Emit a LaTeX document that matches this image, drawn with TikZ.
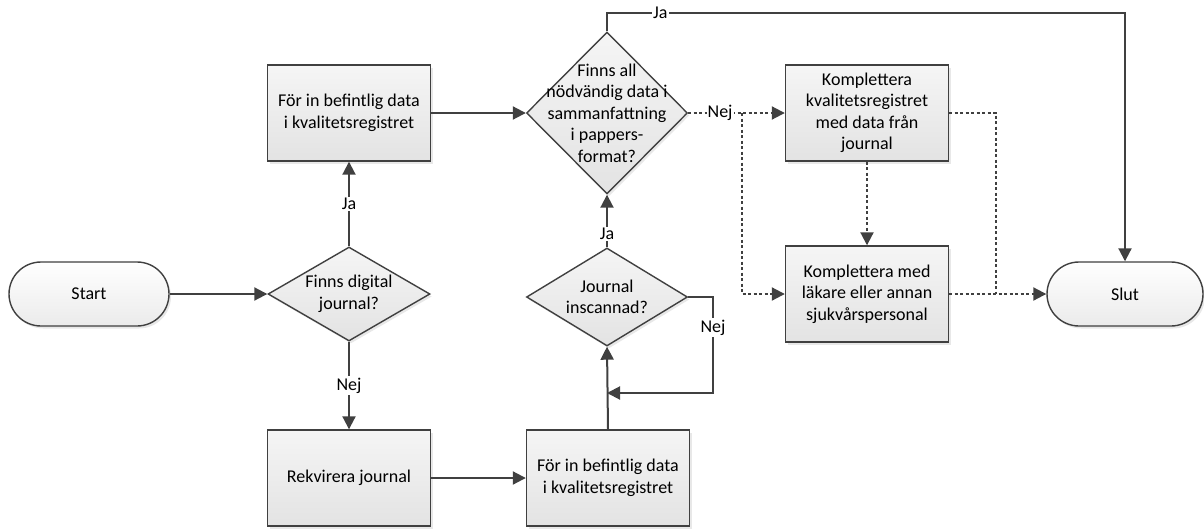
\documentclass[tikz,border=0pt]{standalone}
\usepackage{fontspec}
\setmainfont{Carlito}
\usetikzlibrary{arrows.meta,shapes.geometric,shadows}

\definecolor{lc}{HTML}{404040}
\definecolor{fillTop}{HTML}{F5F5F5}
\definecolor{fillBot}{HTML}{E3E3E3}
\definecolor{termBot}{HTML}{EBEBEB}

\tikzset{
  shshadow/.style={drop shadow={shadow xshift=2pt, shadow yshift=-2.5pt, opacity=0.18, fill=gray}},
  basefont/.style={font=\fontsize{18}{21.5}\selectfont},
  procbox/.style={rectangle, draw=lc, line width=1.4pt, top color=fillTop, bottom color=fillBot,
    minimum width=163pt, minimum height=96pt, inner sep=0pt, align=center, basefont, shshadow},
  termbox/.style={rectangle, rounded corners=32pt, draw=lc, line width=1.4pt, top color=white,
    bottom color=termBot, minimum width=160pt, minimum height=64pt, inner sep=0pt, shshadow},
  decbox/.style={diamond, draw=lc, line width=1.4pt, top color=fillTop, bottom color=fillBot,
    inner sep=0pt, shshadow},
  txt/.style={align=center, inner sep=0pt, basefont},
  lbl/.style={fill=white, inner sep=1.5pt, basefont},
  flow/.style={draw=lc, line width=2pt},
  arr/.style={flow, -{Triangle[length=13pt,width=13pt]}},
  dotflow/.style={flow, dash pattern=on 3pt off 2.5pt},
  dotarr/.style={dotflow, -{Triangle[length=13pt,width=13pt]}},
}

\begin{document}
\begin{tikzpicture}[x=1pt, y=-1pt]
\useasboundingbox (0,0) rectangle (1204,530);

% terminators
\node[termbox] (start) at (89,294) {};
\node[txt] at (start) {Start};
\node[termbox, minimum width=156pt] (slut) at (1125,294) {};
\node[txt] at (slut) {Slut};

% first decision and its two branches
\node[decbox, minimum width=162pt, minimum height=94pt] (d1) at (349,294) {};
\node[txt] at (d1) {Finns digital\\journal?};
\node[procbox] (boxA) at (349,113) {För in befintlig data\\i kvalitetsregistret};
\node[procbox] (rek) at (349,478) {Rekvirera journal};
\node[procbox] (boxB) at (608,478) {För in befintlig data\\i kvalitetsregistret};

% scan check
\node[decbox, minimum width=161pt, minimum height=98pt] (d3) at (607,297) {};
\node[txt] at (d3) {Journal\\inscannad?};

% completeness check
\node[decbox, minimum width=161pt, minimum height=162pt] (d2) at (607,113) {};
\node[txt] at (d2) {Finns all\\nödvändig data i\\sammanfattning\\i pappers-\\format?};

% completion steps
\node[procbox] (k1) at (867,113) {Komplettera\\kvalitetsregistret\\med data från\\journal};
\node[procbox] (k2) at (867,294) {Komplettera med\\läkare eller annan\\sjukvårspersonal};

% bend points
\coordinate (tl) at (607,13);
\coordinate (tr) at (1125,13);
\coordinate (lp) at (713,393);
\coordinate (br) at (742,113);
\coordinate (j1) at (996,113);
\coordinate (j2) at (996,294);

% solid connectors
\draw[arr] (start.east) -- (d1.west);
\draw[arr] (d1.north) -- node[lbl]{Ja} (boxA.south);
\draw[arr] (d1.south) -- node[lbl]{Nej} (rek.north);
\draw[arr] (rek.east) -- (boxB.west);
\draw[arr] (boxB.north) -- (d3.south);
\draw[arr] (d3.east) -| node[lbl, pos=0.66]{Nej} (lp) -- (lp -| d3.south);
\draw[arr] (d3.north) -- node[lbl, pos=0.25]{Ja} (d2.south);
\draw[arr] (boxA.east) -- (d2.west);
\draw[arr] (d2.north) -- (tl) -- node[lbl, pos=0.103]{Ja} (tr) -- (slut.north);

% dotted connectors
\draw[dotarr] (d2.east) -- node[lbl, pos=0.33, inner sep=1pt]{Nej} (k1.west);
\draw[dotarr] (br) |- (k2.west);
\draw[dotarr] (k1.south) -- (k2.north);
\draw[dotflow] (k1.east) -- (j1) -- (j2);
\draw[dotarr] (k2.east) -- (slut.west);
\end{tikzpicture}
\end{document}
